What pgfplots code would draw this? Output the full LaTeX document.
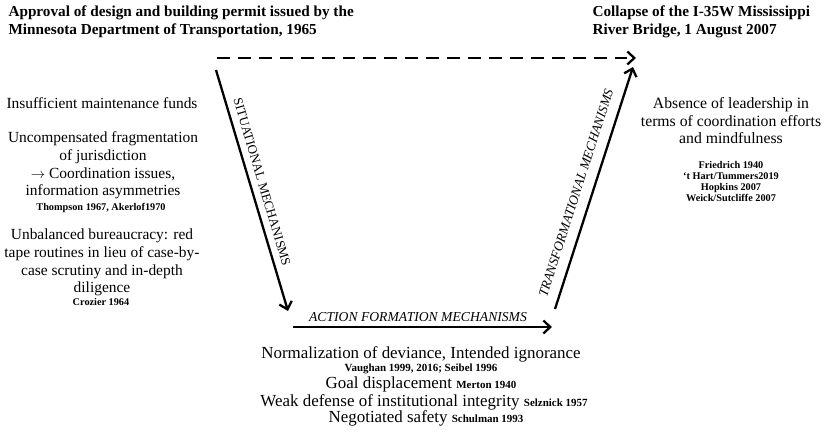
\documentclass[border=0pt]{standalone}
\usepackage{fontspec}
\setmainfont{Liberation Serif}
\usepackage{pgfplots}
\pgfplotsset{compat=1.18}
\usetikzlibrary{arrows.meta}
\newcommand{\mt}{\fontsize{15.5}{18}\selectfont}
\newcommand{\mr}{\fontsize{15.8}{18}\selectfont}
\newcommand{\mb}{\fontsize{17}{18}\selectfont}
\newcommand{\rf}{\fontsize{10.3}{11}\selectfont\bfseries}
\newcommand{\rb}{\fontsize{11}{11}\selectfont\bfseries}
\newcommand{\tf}{\fontsize{15.3}{17}\selectfont\bfseries}
\begin{document}
\begin{tikzpicture}
\begin{axis}[
  scale only axis, width=829bp, height=433bp,
  xmin=0, xmax=829, ymin=0, ymax=433, y dir=reverse,
  axis lines=none, clip=false,
  every node/.append style={inner sep=0pt, outer sep=0pt},
]
% arrows
\addplot[black, line width=2.3pt, dash pattern=on 13pt off 8pt, -{Straight Barb[length=7pt,width=13pt,line width=2.3pt]}] coordinates {(217,58) (636,58)};
\addplot[black, line width=2.3pt, -{Straight Barb[length=7pt,width=13pt,line width=2.3pt]}] coordinates {(216,70) (288,311)};
\addplot[black, line width=2.3pt, -{Straight Barb[length=7pt,width=13pt,line width=2.3pt]}] coordinates {(293,327) (552,327)};
\addplot[black, line width=2.3pt, -{Straight Barb[length=7pt,width=13pt,line width=2.3pt]}] coordinates {(555,309) (633,67)};

% titles
\node[anchor=base west, font=\tf] at (axis cs:5,17) {Approval of design and building permit issued by the};
\node[anchor=base west, font=\tf] at (axis cs:5,35) {Minnesota Department of Transportation, 1965};
\node[anchor=base west, font=\tf] at (axis cs:589,17) {Collapse of the I-35W Mississippi};
\node[anchor=base west, font=\tf] at (axis cs:589,35) {River Bridge, 1 August 2007};

% mechanism labels
\node[rotate=-73.6, font=\fontsize{13}{14}\selectfont] at (axis cs:262,182) {SITUATIONAL MECHANISMS};
\node[font=\fontsize{13.7}{14}\selectfont\itshape] at (axis cs:418,317) {ACTION FORMATION MECHANISMS};
\node[rotate=72.1, font=\fontsize{13.4}{14}\selectfont\itshape] at (axis cs:576,193) {TRANSFORMATIONAL MECHANISMS};

% left block
\node[anchor=base, font=\mt] at (axis cs:102,108) {Insufficient maintenance funds};
\node[anchor=base, font=\mt] at (axis cs:103,142) {Uncompensated fragmentation};
\node[anchor=base, font=\mt] at (axis cs:103,160) {of jurisdiction};
\node[anchor=base, font=\mt] at (axis cs:103,178) {$\rightarrow$ Coordination issues,};
\node[anchor=base, font=\mt] at (axis cs:103,195) {information asymmetries};
\node[anchor=base, font=\rf] at (axis cs:101,210) {Thompson 1967, Akerlof1970};
\node[anchor=base, font=\mt] at (axis cs:102,239) {Unbalanced bureaucracy: red};
\node[anchor=base, font=\mt] at (axis cs:102,257) {tape routines in lieu of case-by-};
\node[anchor=base, font=\mt] at (axis cs:102,275) {case scrutiny and in-depth};
\node[anchor=base, font=\mt] at (axis cs:102,292) {diligence};
\node[anchor=base, font=\rf] at (axis cs:101,305) {Crozier 1964};

% right block
\node[anchor=base, font=\mr] at (axis cs:731,108) {Absence of leadership in};
\node[anchor=base, font=\mr] at (axis cs:731,126) {terms of coordination efforts};
\node[anchor=base, font=\mr] at (axis cs:731,143) {and mindfulness};
\node[anchor=base, font=\rf] at (axis cs:731,168) {Friedrich 1940};
\node[anchor=base, font=\rf] at (axis cs:731,179.5) {`t Hart/Tummers2019};
\node[anchor=base, font=\rf] at (axis cs:731,190.5) {Hopkins 2007};
\node[anchor=base, font=\rf] at (axis cs:731,201.5) {Weick/Sutcliffe 2007};

% bottom block
\node[anchor=base, font=\mb] at (axis cs:421,358.5) {Normalization of deviance, Intended ignorance};
\node[anchor=base, font=\rb] at (axis cs:421,371.5) {Vaughan 1999, 2016; Seibel 1996};
\node[anchor=base, font=\mb] at (axis cs:421,388.5) {Goal displacement {\rb Merton 1940}};
\node[anchor=base, font=\mb] at (axis cs:424,406.5) {Weak defense of institutional integrity {\rb Selznick 1957}};
\node[anchor=base, font=\mb] at (axis cs:426,422.5) {Negotiated safety {\rb Schulman 1993}};
\end{axis}
\pgfresetboundingbox
\path (current axis.south west) rectangle (current axis.north east);
\end{tikzpicture}
\end{document}
